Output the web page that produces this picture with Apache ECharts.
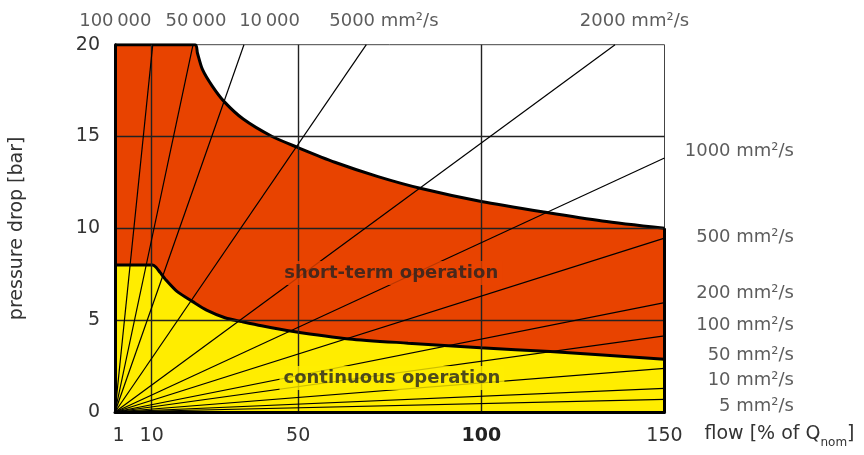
<!DOCTYPE html>
<html>
<head>
<meta charset="utf-8">
<title>pressure drop</title>
<script src="https://cdn.jsdelivr.net/npm/echarts@6/dist/echarts.min.js"></script>
<style>
  html, body { margin: 0; padding: 0; background: #fff; }
  #chart { width: 864px; height: 455px; }
</style>
</head>
<body>
<div id="chart"></div>
<script>
// axis ticks
const flowTicks = [1, 10, 50, 100, 150];
const pressureMax = 20;

// upper limit: short-term operation
const upperFlow = [0, 21.9, 22.5, 23.9, 26.6, 29.8, 35, 42.9, 49.7, 60, 71.8, 83.6, 100, 117.9, 133, 150];
const upperPressure = [20, 20, 19.55, 18.64, 17.73, 16.9, 15.95, 15.0, 14.42, 13.6, 12.82, 12.17, 11.46, 10.86, 10.4, 10.0];

// lower limit: continuous operation
const lowerFlow = [0, 10.3, 11.2, 12.3, 13.9, 17, 21.2, 25, 30.2, 34.5, 40, 48.3, 63.9, 80, 99.8, 118.8, 150];
const lowerPressure = [8, 8, 7.88, 7.6, 7.19, 6.55, 6.01, 5.55, 5.12, 4.93, 4.7, 4.4, 3.98, 3.75, 3.5, 3.29, 2.87];

// viscosity lines (from origin to end point)
const viscosityNames = ['100\u2009000', '50\u2009000', '10\u2009000', '5000 mm²/s', '2000 mm²/s',
  '1000 mm²/s', '500 mm²/s', '200 mm²/s', '100 mm²/s', '50 mm²/s', '10 mm²/s', '5 mm²/s'];
const lineEndFlow = [10.3, 21.3, 35.2, 68.6, 136.5, 150, 150, 150, 150, 150, 150, 150];
const lineEndPressure = [20, 20, 20, 20, 20, 13.83, 9.47, 5.96, 4.14, 2.38, 1.29, 0.69];

// inner grid lines
const gridFlow = [10, 50, 100];
const gridPressure = [5, 10, 15];

const regionNames = ['short-term operation', 'continuous operation'];

// label anchors (layout only)
const labelFlow = [0.1, 22.1, 42.2, 73.4, 141.8, 150, 150, 150, 150, 150, 150, 150];
const labelPressure = [20, 20, 20, 20, 20, 14.18, 9.53, 6.47, 4.74, 3.11, 1.74, 0.29];
const regionFlow = [75.4, 75.6];
const regionPressure = [7.57, 1.85];

const FONT = 'DejaVu Sans';
const TEXT = '#333';
const RED = '#e84300';
const YELLOW = '#ffed00';
const xMax = flowTicks[flowTicks.length - 1];

const zip = (xs, ys) => xs.map((x, i) => [x, ys[i]]);

const chart = echarts.init(document.getElementById('chart'));

// viscosity labels: on top or on the right side
const viscLabels = viscosityNames.map((name, i) => {
  const onTop = labelPressure[i] >= pressureMax;
  return {
    value: [labelFlow[i], labelPressure[i]],
    label: {
      show: true,
      formatter: name,
      position: 'inside',
      align: onTop ? 'center' : 'right',
      verticalAlign: 'middle',
      offset: onTop ? [0, -23] : [129.5, 0],
      fontFamily: FONT,
      fontSize: 18,
      color: TEXT
    }
  };
});

const regionLabels = regionNames.map((name, i) => ({
  value: [regionFlow[i], regionPressure[i]],
  label: {
    show: true,
    formatter: name,
    position: 'inside',
    align: 'center',
    verticalAlign: 'middle',
    fontFamily: FONT,
    fontSize: 18,
    fontWeight: 'bold',
    color: '#222',
    backgroundColor: i === 0 ? RED : YELLOW,
    padding: [3, 4]
  }
}));

const option = {
  animation: false,
  grid: {
    left: 112, right: 199.5, top: 44.7, bottom: 43,
    show: true, borderColor: '#444', borderWidth: 1
  },
  xAxis: {
    type: 'value', min: 0, max: xMax, z: 10,
    name: '{a|flow [% of Q}{s|nom}{a|]}',
    nameLocation: 'end',
    nameGap: 40,
    nameTextStyle: {
      padding: [50, 0, 0, 0],
      rich: {
        a: { fontFamily: FONT, fontSize: 19, color: TEXT, padding: [0, 0, 5, 0], verticalAlign: 'bottom' },
        s: { fontFamily: FONT, fontSize: 12, color: TEXT, verticalAlign: 'bottom' }
      }
    },
    axisLine: { lineStyle: { color: '#000', width: 3 } },
    axisTick: { show: false },
    splitLine: { show: false },
    axisLabel: {
      customValues: flowTicks,
      margin: 15,
      fontFamily: FONT, fontSize: 19, color: TEXT,
      formatter: v => v === 100 ? '{b|100}' : String(v),
      rich: { b: { fontFamily: FONT, fontSize: 19, fontWeight: 'bold', color: '#222' } }
    }
  },
  yAxis: {
    type: 'value', min: 0, max: pressureMax, interval: 5, z: 10,
    name: 'pressure drop [bar]',
    nameLocation: 'middle',
    nameGap: 88,
    nameTextStyle: { fontFamily: FONT, fontSize: 19, color: TEXT },
    axisLine: { show: true, lineStyle: { color: '#000', width: 3 } },
    axisTick: { show: false },
    splitLine: { show: false },
    axisLabel: { margin: 15, fontFamily: FONT, fontSize: 19, color: TEXT }
  },
  series: [
    {
      // short-term region
      type: 'line', z: 1,
      data: zip(upperFlow, upperPressure),
      symbol: 'none', smooth: 0.25,
      lineStyle: { color: '#000', width: 3 },
      areaStyle: { color: RED, opacity: 1 }
    },
    {
      // continuous region
      type: 'line', z: 2,
      data: zip(lowerFlow, lowerPressure),
      symbol: 'none', smooth: 0.25,
      lineStyle: { color: '#000', width: 3 },
      areaStyle: { color: YELLOW, opacity: 1 }
    },
    {
      // grid lines over the fills
      type: 'lines', coordinateSystem: 'cartesian2d', z: 3, silent: true,
      data: gridFlow.map(x => ({ coords: [[x, 0], [x, pressureMax]] }))
        .concat(gridPressure.map(p => ({ coords: [[0, p], [xMax, p]] }))),
      lineStyle: { color: '#222', width: 1.4, opacity: 1, curveness: 0 }
    },
    {
      // viscosity lines
      type: 'lines', coordinateSystem: 'cartesian2d', z: 4, silent: true,
      data: lineEndFlow.map((x, i) => ({ coords: [[0, 0], [x, lineEndPressure[i]]] })),
      lineStyle: { color: '#000', width: 1.2, opacity: 1, curveness: 0 }
    },
    {
      // thick right edge of the filled area
      type: 'lines', coordinateSystem: 'cartesian2d', z: 5, silent: true,
      data: [{ coords: [[xMax, 0], [xMax, upperPressure[upperPressure.length - 1]]] }],
      lineStyle: { color: '#000', width: 3, opacity: 1, curveness: 0 }
    },
    {
      type: 'scatter', z: 6, silent: true, clip: false,
      symbolSize: 0,
      data: viscLabels.concat(regionLabels)
    }
  ]
};

chart.setOption(option);
</script>
</body>
</html>
